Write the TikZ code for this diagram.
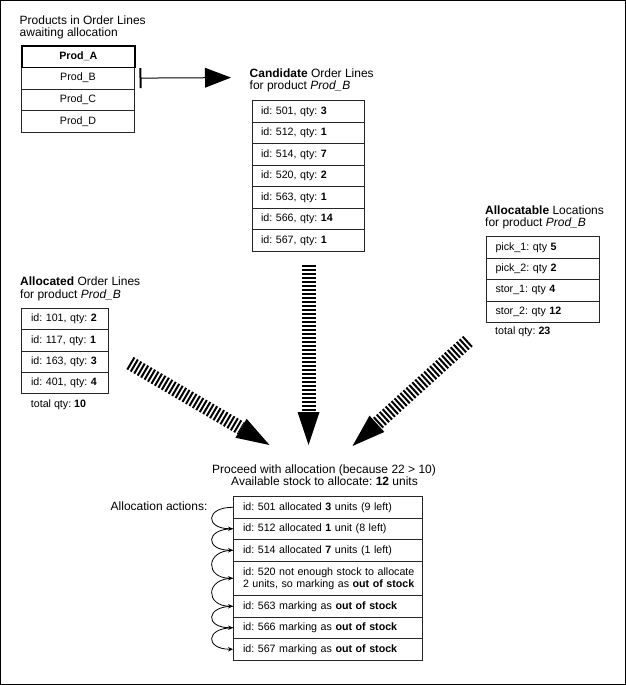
\documentclass[tikz,border=0pt]{standalone}
\usepackage{fontspec}
\setmainfont{Liberation Sans}
\usetikzlibrary{arrows.meta}
\frenchspacing
\begin{document}
\frenchspacing
\begin{tikzpicture}[x=1pt,y=-1pt,
  ttl/.style={anchor=base west, inner sep=0pt, font=\fontsize{12}{14}\selectfont},
  ttlc/.style={anchor=base, inner sep=0pt, font=\fontsize{12}{14}\selectfont},
  sml/.style={anchor=base west, inner sep=0pt, font=\fontsize{10.67}{12}\selectfont},
  cell/.style={draw=black!85, line width=1pt, anchor=north west, inner ysep=0pt,
     font=\fontsize{10.67}{12}\selectfont, align=left},
  prodcell/.style={cell, inner xsep=0pt, text width=113pt, minimum height=21.75pt, align=center},
  candcell/.style={cell, inner xsep=8.5pt, text width=95pt, minimum height=21.57pt},
  loccell/.style={cell, inner xsep=9pt, text width=95pt, minimum height=21.5pt},
  alloccell/.style={cell, inner xsep=9.5pt, text width=68pt, minimum height=21.25pt},
  actcell/.style={cell, inner xsep=9.5pt, text width=170pt, minimum height=21.5pt},
  bigarrow/.style={line width=14pt, dash pattern=on 2pt off 2pt,
     -{Triangle[length=33pt,width=22pt,line width=0pt]}},
  steparrow/.style={line width=0.8pt, -{Stealth[length=5pt,width=4.5pt]}},
]
\useasboundingbox (0,0) rectangle (626,685);
\draw[line width=1pt] (0.5,0.5) rectangle (625.5,684.5);

% Products table
\node[ttl] (pt1) at (19.5,24.3) {Products in Order Lines};
\node[ttl] (pt2) at (19.5,36.5) {awaiting allocation};
\node[prodcell] (p2) at (21,66.75) {Prod\_B};
\node[prodcell] (p3) at (21,88.5) {Prod\_C};
\node[prodcell] (p4) at (21,110.25) {Prod\_D};
\node[prodcell, line width=1.6pt, draw=black, font=\fontsize{10.67}{12}\selectfont\bfseries] (p1) at (21,45) {Prod\_A};

% Candidate table
\node[ttl] (ct1) at (249.5,77.3) {\textbf{Candidate} Order Lines};
\node[ttl] (ct2) at (249.5,89.8) {for product \textit{Prod\_B}};
\node[candcell] (c1) at (252,100) {id: 501, qty: \textbf{3}};
\node[candcell] (c2) at (252,121.57) {id: 512, qty: \textbf{1}};
\node[candcell] (c3) at (252,143.14) {id: 514, qty: \textbf{7}};
\node[candcell] (c4) at (252,164.71) {id: 520, qty: \textbf{2}};
\node[candcell] (c5) at (252,186.28) {id: 563, qty: \textbf{1}};
\node[candcell] (c6) at (252,207.85) {id: 566, qty: \textbf{14}};
\node[candcell] (c7) at (252,229.42) {id: 567, qty: \textbf{1}};

% Allocatable locations
\node[ttl] (lt1) at (485,214) {\textbf{Allocatable} Locations};
\node[ttl] (lt2) at (485,226.7) {for product \textit{Prod\_B}};
\node[loccell] (l1) at (486,236) {pick\_1: qty \textbf{5}};
\node[loccell] (l2) at (486,257.5) {pick\_2: qty \textbf{2}};
\node[loccell] (l3) at (486,279) {stor\_1: qty \textbf{4}};
\node[loccell] (l4) at (486,300.5) {stor\_2: qty \textbf{12}};
\node[sml] (ltot) at (495,334.3) {total qty: \textbf{23}};

% Allocated order lines
\node[ttl] (at1) at (20,285.7) {\textbf{Allocated} Order Lines};
\node[ttl] (at2) at (20,298.4) {for product \textit{Prod\_B}};
\node[alloccell] (q1) at (21,308) {\mbox{id: 101, qty: \textbf{2}}};
\node[alloccell] (q2) at (21,329.25) {\mbox{id: 117, qty: \textbf{1}}};
\node[alloccell] (q3) at (21,350.5) {\mbox{id: 163, qty: \textbf{3}}};
\node[alloccell] (q4) at (21,371.75) {\mbox{id: 401, qty: \textbf{4}}};
\node[sml] (qtot) at (30.7,407.7) {total qty: \textbf{10}};

% Allocation
\node[ttlc] (pr1) at (324,473.3) {Proceed with allocation (because 22 > 10)};
\node[ttlc] (pr2) at (324.5,485.8) {Available stock to allocate: \textbf{12} units};
\node[ttl] (acts) at (110.5,510) {Allocation actions:};
\node[actcell] (a1) at (233,496) {id: 501 allocated \textbf{3} units (9 left)};
\node[actcell] (a2) at (233,517.5) {id: 512 allocated \textbf{1} unit (8 left)};
\node[actcell] (a3) at (233,539) {id: 514 allocated \textbf{7} units (1 left)};
\node[actcell, minimum height=34.5pt] (a4) at (233,560.5)
  {\mbox{id: 520 not enough stock to allocate}\\\mbox{2 units, so marking as \textbf{out of stock}}};
\node[actcell] (a5) at (233,595) {id: 563 marking as \textbf{out of stock}};
\node[actcell] (a6) at (233,616.5) {id: 566 marking as \textbf{out of stock}};
\node[actcell] (a7) at (233,638) {id: 567 marking as \textbf{out of stock}};

% Prod_B arrow
\coordinate (tipB) at (231,77.6);
\draw[line width=1pt, shorten <=4.5pt,
  {Bar[width=20pt,line width=2pt]}-{Triangle[length=26pt,width=20pt,line width=0pt]}]
  (p2.east) -- (tipB);

% big arrows
\coordinate (mS) at (308.5,264.5);
\coordinate (mT) at (308.5,445);
\coordinate (lS) at (130,363);
\coordinate (lT) at (269.5,445);
\coordinate (rS) at (468,341);
\coordinate (rT) at (352.5,446);
\draw[bigarrow] (mS) -- (mT);
\draw[bigarrow] (lS) -- (lT);
\draw[bigarrow] (rS) -- (rT);

% step arrows
\foreach \i/\j in {1/2,2/3,3/4,4/5,5/6,6/7}
  \draw[steparrow] (a\i.west) .. controls +(-28,0) and +(-28,0) .. (a\j.west);
\end{tikzpicture}
\end{document}
